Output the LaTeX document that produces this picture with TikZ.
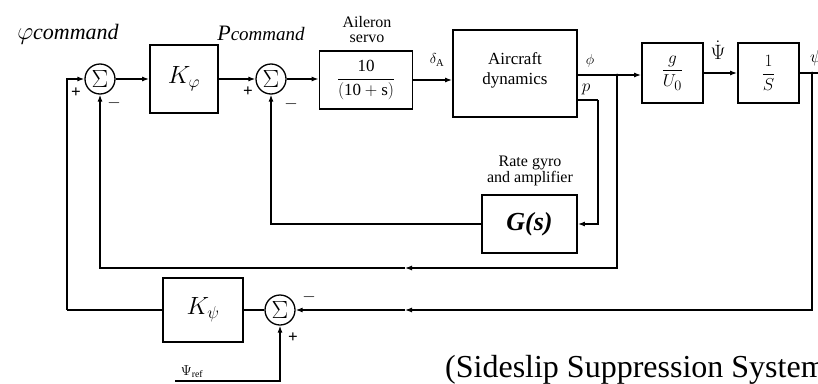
\documentclass[tikz,border=0pt]{standalone}
\usepackage{fontspec}
\setmainfont{Liberation Serif}
\usetikzlibrary{arrows.meta,calc}
\begin{document}
\begin{tikzpicture}[x=1pt,y=-1pt,
  blk/.style={draw,line width=1.8pt,rectangle,inner sep=0pt},
  sumnode/.style={draw,circle,line width=1.3pt,minimum size=30pt,inner sep=0pt},
  sig/.style={line width=1.2pt},
  arr/.style={sig,-{Latex[length=7pt,width=5pt]}},
  lbl/.style={inner sep=0pt,font=\fontsize{16}{16}\selectfont},
  sgn/.style={inner sep=0pt,font=\fontsize{17}{17}\selectfont\bfseries},
  dot/.style={circle,fill,inner sep=0pt,minimum size=3pt}]
\useasboundingbox (0,0) rectangle (818,383);
% blocks
\node[sumnode] (s1) at (100,79) {\fontsize{23}{23}\selectfont$\Sigma$};
\node[blk,minimum width=68pt,minimum height=68pt] (kphi) at (184,79) {\fontsize{24}{24}\selectfont$K_{\varphi}$};
\node[sumnode] (s2) at (271,79) {\fontsize{23}{23}\selectfont$\Sigma$};
\node[blk,minimum width=93pt,minimum height=58pt] (servo) at (366,80) {\fontsize{17}{17}\selectfont$\displaystyle\frac{\mathrm{10}}{\mathrm{(10+s)}}$};
\node[blk,minimum width=124pt,minimum height=87pt] (ac) at (515,73.5) {};
\node[lbl,align=center,font=\fontsize{17}{20}\selectfont] (actext) at (515,70) {Aircraft\\dynamics};
\node[blk,minimum width=61pt,minimum height=60pt] (g1) at (672.5,73) {\fontsize{19}{19}\selectfont$\displaystyle\frac{g}{U_0}$};
\node[blk,minimum width=61pt,minimum height=60pt] (int) at (768.5,73) {\fontsize{19}{19}\selectfont$\displaystyle\frac{1}{S}$};
\node[blk,minimum width=95pt,minimum height=58pt,font=\fontsize{26}{26}\selectfont\bfseries\itshape] (gs) at (529.5,224) {G(s)};
\node[blk,minimum width=80pt,minimum height=64pt] (kpsi) at (203,310) {\fontsize{24}{24}\selectfont$K_{\psi}$};
\node[sumnode] (s3) at (280,310) {\fontsize{23}{23}\selectfont$\Sigma$};
% coordinates
\coordinate (phio) at (577,75);
\coordinate (jphi) at (617,75);
\coordinate (po) at (577,100);
\coordinate (pc) at (598,100);
\coordinate (fb1) at (405,268);
\coordinate (jpsi) at (812,73);
\coordinate (psiend) at (818,73);
\coordinate (fb2) at (405,310);
\coordinate (kl) at (67,310);
\coordinate (ref) at (175,381);
% forward path
\draw[arr] (s1.east) -- (kphi.west);
\draw[arr] (kphi.east) -- (s2.west);
\draw[arr] (s2.east) -- (servo.west |- s2.east);
\draw[arr] (servo.east) -- (ac.west |- servo.east);
\draw[sig] (phio) -- (jphi);
\draw[arr] (jphi) -- (g1.west |- jphi);
\draw[arr] (g1.east) -- (int.west);
\draw[sig] (int.east) -- (psiend);
\node[dot] (d1) at (jphi) {};
\node[dot] (d2) at (jpsi) {};
% rate loop
\draw[sig] (po) -- (pc);
\draw[arr] (pc) |- (gs.east);
\draw[arr] (gs.west) -| (s2.south);
% phi loop
\draw[arr] (jphi) |- (fb1);
\draw[arr] (fb1) -| (s1.south);
% psi loop
\draw[arr] (jpsi) |- (fb2);
\draw[arr] (fb2) -- (s3.east);
\draw[sig] (s3.west) -- (kpsi.east);
\draw[sig] (kpsi.west) -- (kl);
\draw[arr] (kl) |- (s1.west);
\draw[arr] (ref) -| (s3.south);
% labels
\node[inner sep=0pt] (phicmd) at (68,34) {\fontsize{28}{28}\selectfont$\varphi$\fontsize{22}{22}\selectfont\itshape command};
\node[inner sep=0pt] (pcmd) at (261,33) {\fontsize{22}{22}\selectfont\itshape P\fontsize{19}{19}\selectfont command};
\node[lbl] (ail) at (367,22) {Aileron};
\node[lbl] (srv) at (367,39) {servo};
\node[lbl,font=\fontsize{15}{15}\selectfont] (dA) at (437,60) {$\delta_{\mathrm{A}}$};
\node[lbl,font=\fontsize{15}{15}\selectfont] (phil) at (590,61) {$\phi$};
\node[lbl,font=\fontsize{18}{18}\selectfont] (pl) at (586,89) {$p$};
\node[lbl,font=\fontsize{20}{20}\selectfont] (psid) at (718,50) {$\dot{\Psi}$};
\node[lbl,font=\fontsize{18}{18}\selectfont,anchor=west] (psil) at (810,58) {$\psi$};
\node[lbl] (rg1) at (530,163) {Rate gyro};
\node[lbl] (rg2) at (530,179) {and amplifier};
\node[lbl,font=\fontsize{14}{14}\selectfont] (psiref) at (192,372) {$\Psi_{\mathrm{ref}}$};
% signs
\node[sgn] (p1) at (76,93) {+};
\node[sgn] (m1) at (114,103) {$-$};
\node[sgn] (p2) at (248,92) {+};
\node[sgn] (m2) at (291,104) {$-$};
\node[sgn] (m3) at (309,297) {$-$};
\node[sgn] (p3) at (293,338) {+};
% caption
\node[inner sep=0pt,anchor=base west,font=\fontsize{32}{32}\selectfont] (cap) at (445,377) {(Sideslip Suppression System)};
\end{tikzpicture}
\end{document}
